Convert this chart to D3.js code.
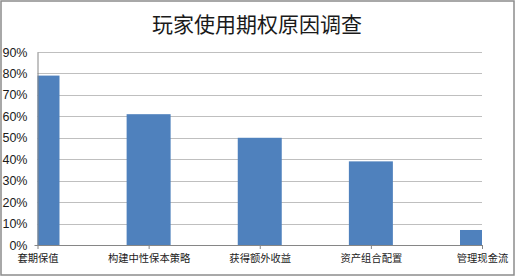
<!DOCTYPE html>
<html>
<head>
<meta charset="utf-8">
<script src="https://cdnjs.cloudflare.com/ajax/libs/d3/7.8.5/d3.min.js"></script>
<style>
  html, body { margin: 0; padding: 0; background: #fff; }
</style>
</head>
<body>
<div id="chart"></div>
<script>

// Chart data
var chartTitle = '玩家使用期权原因调查';
var categories = ['套期保值', '构建中性保本策略', '获得额外收益', '资产组合配置', '管理现金流'];
var shares = [0.79, 0.61, 0.50, 0.39, 0.07];
var yTicks = [0, 0.1, 0.2, 0.3, 0.4, 0.5, 0.6, 0.7, 0.8, 0.9];

// Exposed variables
var attrs = {
  svgWidth: 516,
  svgHeight: 278,
  marginTop: 52,
  marginBottom: 33,
  marginLeft: 37.5,
  marginRight: 34,
  barWidth: 44,
  barColor: '#4F81BD',
  gridColor: '#BFBFBF',
  axisColor: '#868686',
  textFill: '#1a1a1a',
  defaultFont: '"Liberation Sans", Arial, "Noto Sans CJK SC", sans-serif',
  cjkFont: '"Noto Sans CJK SC", sans-serif'
};

//Calculated properties
var calc = {};
calc.chartWidth = attrs.svgWidth - attrs.marginLeft - attrs.marginRight;
calc.chartHeight = attrs.svgHeight - attrs.marginTop - attrs.marginBottom;

//#########################  SCALES  ########################
var scales = {};

// categories sit on the tick marks, first and last bar get cut in half
scales.x = d3.scalePoint()
  .domain(categories)
  .range([0, calc.chartWidth])
  .padding(0);

scales.y = d3.scaleLinear()
  .domain([0, 0.9])
  .range([calc.chartHeight, 0]);

//Add svg
var svg = d3.select('#chart').append('svg')
  .attr('width', attrs.svgWidth)
  .attr('height', attrs.svgHeight)
  .attr('font-family', attrs.defaultFont);

//outer border
svg.append('rect')
  .attr('x', 1)
  .attr('y', 1)
  .attr('width', attrs.svgWidth - 3)
  .attr('height', attrs.svgHeight - 4)
  .attr('fill', '#fff')
  .attr('stroke', '#8c8c8c')
  .attr('stroke-width', 1.5);

//title
svg.append('text')
  .attr('x', 257)
  .attr('y', 32)
  .attr('text-anchor', 'middle')
  .attr('font-family', attrs.cjkFont)
  .attr('font-size', 21)
  .attr('fill', attrs.textFill)
  .text(chartTitle);

var chart = svg.append('g')
  .attr('transform', 'translate(' + attrs.marginLeft + ',' + attrs.marginTop + ')');

//clip for the half bars
chart.append('clipPath')
  .attr('id', 'plot-clip')
  .append('rect')
  .attr('width', calc.chartWidth)
  .attr('height', calc.chartHeight);

//grid lines
chart.append('g')
  .selectAll('line')
  .data(yTicks.slice(1))
  .enter().append('line')
  .attr('x1', 0)
  .attr('x2', calc.chartWidth)
  .attr('y1', d => Math.round(scales.y(d)) + 0.5)
  .attr('y2', d => Math.round(scales.y(d)) + 0.5)
  .attr('stroke', attrs.gridColor)
  .attr('stroke-width', 1);

//bars
chart.append('g')
  .attr('clip-path', 'url(#plot-clip)')
  .selectAll('rect')
  .data(shares)
  .enter().append('rect')
  .attr('x', (d, i) => scales.x(categories[i]) - attrs.barWidth / 2)
  .attr('y', d => scales.y(d))
  .attr('width', attrs.barWidth)
  .attr('height', d => calc.chartHeight - scales.y(d))
  .attr('fill', attrs.barColor);

//y axis
var yAxis = chart.append('g')
  .call(d3.axisLeft(scales.y)
    .tickValues(yTicks)
    .tickFormat(d3.format('.0%'))
    .tickSize(0)
    .tickPadding(10));

yAxis.select('.domain').attr('stroke', attrs.axisColor);
yAxis.selectAll('text')
  .attr('font-size', 12.5)
  .attr('fill', attrs.textFill)
  .attr('font-family', attrs.defaultFont);

//x axis
var xAxis = chart.append('g')
  .attr('transform', 'translate(0,' + calc.chartHeight + ')')
  .call(d3.axisBottom(scales.x)
    .tickSize(4)
    .tickSizeOuter(0)
    .tickPadding(6));

xAxis.select('.domain')
  .attr('stroke', attrs.axisColor)
  .attr('d', 'M-3,0.5H' + calc.chartWidth);
xAxis.selectAll('line').attr('stroke', attrs.axisColor);
xAxis.selectAll('text')
  .attr('font-size', 10.3)
  .attr('font-family', attrs.cjkFont)
  .attr('fill', attrs.textFill);

</script>
</body>
</html>
